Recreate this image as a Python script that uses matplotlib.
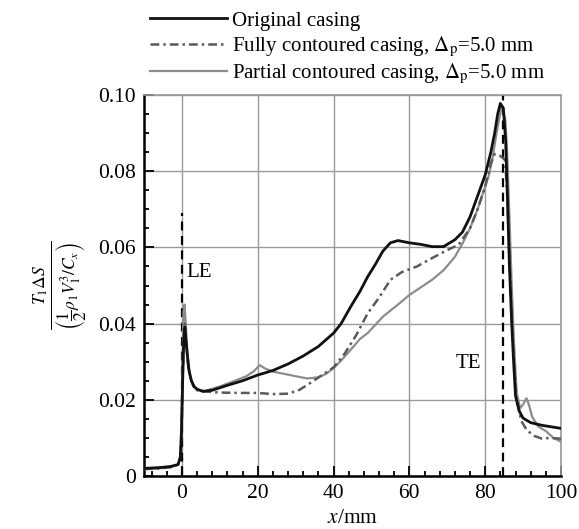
import matplotlib
matplotlib.use("Agg")
import matplotlib.pyplot as plt
from matplotlib.ticker import MultipleLocator, FixedLocator

plt.rcParams['font.family'] = ['Liberation Serif', 'DejaVu Serif']
plt.rcParams['mathtext.fontset'] = 'stix'

# axial position (mm) and entropy loss coefficient for each casing
x_orig = [-10, -6, -3, -1, -0.4, -0.1, 0.2, 0.5, 0.8, 1.2, 1.8, 2.5, 3.2, 4, 5.5, 8,
          12, 16, 20, 24, 28, 32, 36, 40, 42, 44.5, 47, 49, 51, 53, 55, 57, 60, 63,
          66, 69, 72, 74, 76, 78, 80, 81.5, 82.5, 83.3, 84, 84.8, 85.4, 85.9, 86.4,
          87, 87.5, 88, 89, 90, 92, 95, 100]
y_orig = [0.002, 0.0022, 0.0025, 0.003, 0.005, 0.012, 0.025, 0.036, 0.039, 0.034,
          0.028, 0.025, 0.0235, 0.0228, 0.0222, 0.0225, 0.0238, 0.025, 0.0265,
          0.0277, 0.0294, 0.0315, 0.034, 0.0375, 0.040, 0.0444, 0.0485, 0.0523,
          0.0555, 0.0590, 0.0612, 0.0618, 0.0612, 0.0608, 0.0602, 0.0602, 0.062,
          0.064, 0.068, 0.0735, 0.0790, 0.0850, 0.0900, 0.0950, 0.0978, 0.0965,
          0.088, 0.072, 0.055, 0.040, 0.030, 0.021, 0.017, 0.0152, 0.014, 0.0133,
          0.0125]

x_full = [-10, -6, -3, -1, -0.4, -0.1, 0.2, 0.5, 0.8, 1.2, 1.8, 2.5, 3.2, 4, 6, 10,
          15, 20, 24, 28, 31, 34, 37, 40, 43, 46, 49, 52, 55, 58, 62, 66, 70, 73,
          76, 78, 80, 81.5, 82.5, 84, 85.2, 85.8, 86.4, 87, 87.6, 88.3, 89.5, 91,
          93, 95, 97, 100]
y_full = [0.0018, 0.002, 0.0023, 0.003, 0.005, 0.012, 0.026, 0.037, 0.040, 0.034,
          0.028, 0.025, 0.0235, 0.0225, 0.0222, 0.0219, 0.0218, 0.0218, 0.0215,
          0.0216, 0.0226, 0.0245, 0.0265, 0.0285, 0.0322, 0.037, 0.0427, 0.0468,
          0.0515, 0.0535, 0.0550, 0.0572, 0.0593, 0.0607, 0.0650, 0.0700, 0.0760,
          0.0820, 0.0845, 0.0840, 0.0830, 0.075, 0.058, 0.042, 0.030, 0.020,
          0.0145, 0.012, 0.0105, 0.0098, 0.0100, 0.0098]

x_part = [-10, -6, -3, -1, -0.4, -0.1, 0.2, 0.4, 0.7, 1.0, 1.5, 2.2, 3, 4, 6, 10,
          14, 17, 19, 20.5, 22, 24, 27, 30, 33, 36, 38, 40, 42, 44.5, 47, 49, 53,
          57, 60, 63, 66, 69, 72, 74, 76, 78, 79.5, 81, 82, 83, 84.3, 85.3, 85.8,
          86.4, 87, 87.6, 88.3, 89.2, 90, 90.9, 91.6, 92.4, 94, 96, 98, 100]
y_part = [0.0018, 0.002, 0.0023, 0.003, 0.005, 0.013, 0.030, 0.043, 0.045, 0.040,
          0.032, 0.026, 0.0235, 0.0227, 0.0223, 0.0235, 0.025, 0.0262, 0.0275,
          0.0291, 0.0282, 0.0274, 0.0268, 0.0262, 0.0256, 0.0259, 0.0268, 0.0283,
          0.0303, 0.0331, 0.0360, 0.0375, 0.0418, 0.0450, 0.0475, 0.0495, 0.0515,
          0.0540, 0.0575, 0.061, 0.065, 0.070, 0.0745, 0.0790, 0.0838, 0.090,
          0.0969, 0.0937, 0.085, 0.068, 0.050, 0.035, 0.022, 0.0178, 0.0188,
          0.0204, 0.0185, 0.0155, 0.0130, 0.0118, 0.0100, 0.0090]

labels = ['Original casing',
          r'Fully contoured casing, $\mathit{\Delta}_{\mathrm{p}}$=5.0 mm',
          r'Partial contoured casing, $\mathit{\Delta}_{\mathrm{p}}$=5.0 mm']

x_le, x_te = 0, 84.6

fig = plt.figure(figsize=(5.79, 5.29), dpi=100)
ax = fig.add_axes([0.2487, 0.1002, 0.7202, 0.7202])

ax.grid(True, color='#9a9a9a', lw=1.0)
ax.set_axisbelow(True)

ax.vlines(x_le, 0, 0.069, colors='black', lw=1.6, linestyles=(0, (4, 2.5)), zorder=2)
ax.vlines(x_te, 0, 0.1, colors='black', lw=1.6, linestyles=(0, (4, 2.5)), zorder=2)

ax.plot(x_part, y_part, color='#8c8c8c', lw=1.6, label=labels[2], zorder=3)
ax.plot(x_full, y_full, color='#5a5a5a', lw=1.8, ls=(0, (3.5, 1.6, 1, 1.6)),
        label=labels[1], zorder=4)
ax.plot(x_orig, y_orig, color='#111111', lw=2.0, label=labels[0], zorder=5)

ax.text(1.3, 0.0533, 'LE', fontsize=15, va='center', ha='left')
ax.text(72.1, 0.0296, 'TE', fontsize=15, va='center', ha='left')

ax.set_xlim(-10, 100)
ax.set_ylim(0, 0.10)
ax.xaxis.set_major_locator(FixedLocator([0, 20, 40, 60, 80, 100]))
ax.xaxis.set_minor_locator(MultipleLocator(4))
ax.yaxis.set_major_locator(FixedLocator([0, 0.02, 0.04, 0.06, 0.08, 0.10]))
ax.yaxis.set_minor_locator(MultipleLocator(0.005))
ax.set_yticklabels(['0', '0.02', '0.04', '0.06', '0.08', '0.10'])
ax.tick_params(which='both', direction='in', labelsize=15.5, width=1.3,
               top=False, right=False, pad=6)
ax.tick_params(which='major', length=7)
ax.tick_params(which='minor', length=3.5)

for side in ('left', 'bottom'):
    ax.spines[side].set_linewidth(1.8)
    ax.spines[side].set_color('black')
for side in ('top', 'right'):
    ax.spines[side].set_linewidth(1.2)
    ax.spines[side].set_color('#9a9a9a')

ax.set_xlabel('$x$/mm', fontsize=15.5, labelpad=4)
ax.set_ylabel(r'$\frac{T_1\Delta S}{\left(\dfrac{1}{2}\rho_1 V_1^3/C_x\right)}$',
              fontsize=18, labelpad=6)

handles, labs = ax.get_legend_handles_labels()
order = [2, 1, 0]
ax.legend([handles[i] for i in order], [labs[i] for i in order],
          loc='upper left', bbox_to_anchor=(150 / 579, 1 - 11 / 529),
          bbox_transform=fig.transFigure, frameon=False, fontsize=15,
          handlelength=3.7, handletextpad=0.25, labelspacing=0.18,
          borderpad=0, borderaxespad=0)

fig.savefig('out.png', dpi=100)
